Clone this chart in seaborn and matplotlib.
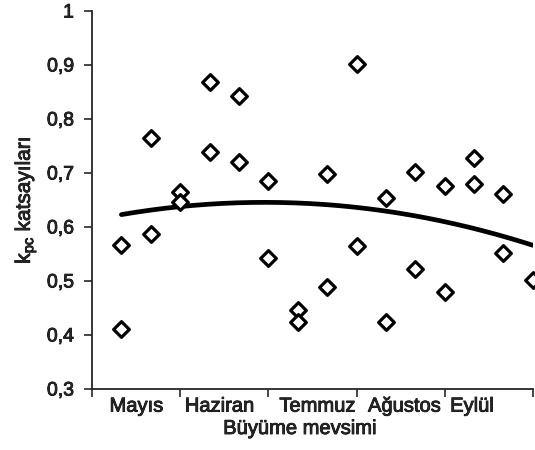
import numpy as np
import pandas as pd
import matplotlib
matplotlib.use("Agg")
import matplotlib.pyplot as plt
import matplotlib.patheffects as pe
from matplotlib.ticker import FixedLocator, FuncFormatter
import seaborn as sns

# Sampling positions within the growing season (3 per month)
positions = [1, 1, 2, 2, 3, 3, 4, 4, 5, 5, 6, 6, 7, 7, 8, 8,
             9, 9, 10, 10, 11, 11, 12, 12, 13, 13, 14, 14, 15]
# k_pc coefficients
kpc = [0.567, 0.411, 0.764, 0.587, 0.665, 0.647, 0.868, 0.739, 0.843, 0.721,
       0.686, 0.542, 0.446, 0.424, 0.699, 0.488, 0.901, 0.564, 0.654, 0.424,
       0.702, 0.522, 0.676, 0.479, 0.727, 0.679, 0.661, 0.551, 0.501]
months = ["Mayıs", "Haziran", "Temmuz", "Ağustos", "Eylül"]
month_label_pos = [1.51, 4.34, 7.67, 10.63, 12.93]
month_bounds = [0, 3, 6, 9, 12, 15]
y_ticks = [0.3, 0.4, 0.5, 0.6, 0.7, 0.8, 0.9, 1.0]

df = pd.DataFrame({"pos": positions, "kpc": kpc})

# Second-order polynomial trend through the observations
coef = np.polyfit(df["pos"], df["kpc"], 2)
trend_x = np.linspace(1, 15, 200)
trend = pd.DataFrame({"pos": trend_x, "kpc": np.polyval(coef, trend_x)})

sns.set_style("ticks")
plt.rcParams["font.family"] = ["Liberation Sans", "DejaVu Sans"]
plt.rcParams["mathtext.default"] = "regular"

# slightly heavier strokes for all text
heavy = [pe.withStroke(linewidth=0.6, foreground="black")]

fig = plt.figure(figsize=(5.35, 4.5), dpi=100)
ax = fig.add_axes([0.172, 0.1356, 0.824, 0.84])

sns.lineplot(data=trend, x="pos", y="kpc", ax=ax, color="black",
             linewidth=3.4, zorder=2)
sns.scatterplot(data=df, x="pos", y="kpc", ax=ax, marker="D", s=64,
                facecolor="white", edgecolor="black", linewidth=2.3,
                zorder=3, clip_on=False)

ax.set_xlim(0, 15)
ax.set_ylim(0.3, 1.0)
ax.yaxis.set_major_locator(FixedLocator(y_ticks))
ax.yaxis.set_major_formatter(FuncFormatter(
    lambda v, _: "1" if abs(v - 1) < 1e-9 else f"{v:.1f}".replace(".", ",")))
ax.set_xticks(month_bounds)
ax.set_xticklabels([])
ax.set_xticks(month_label_pos, minor=True)
ax.set_xticklabels(months, minor=True)
ax.tick_params(axis="x", which="minor", length=0, pad=5.5, labelsize=14.5)
ax.tick_params(axis="x", which="major", length=6, width=1.2, direction="out")
ax.tick_params(axis="y", length=6, width=1.2, pad=7, labelsize=14)
for lbl in ax.get_yticklabels() + ax.get_xticklabels(minor=True):
    lbl.set_path_effects(heavy)

for s in ["top", "right"]:
    ax.spines[s].set_visible(False)
for s in ["left", "bottom"]:
    ax.spines[s].set_linewidth(1.3)

ax.set_xlabel("")
ylab = ax.set_ylabel(r"k$_{pc}$ katsayıları", fontsize=15)
ylab.set_path_effects(heavy)
ax.yaxis.set_label_coords(-0.122, 0.5)
fig.text(300 / 535, 1 - 434 / 450, "Büyüme mevsimi", ha="center",
         va="baseline", fontsize=14.5, path_effects=heavy)

fig.savefig("out.png", dpi=100)
